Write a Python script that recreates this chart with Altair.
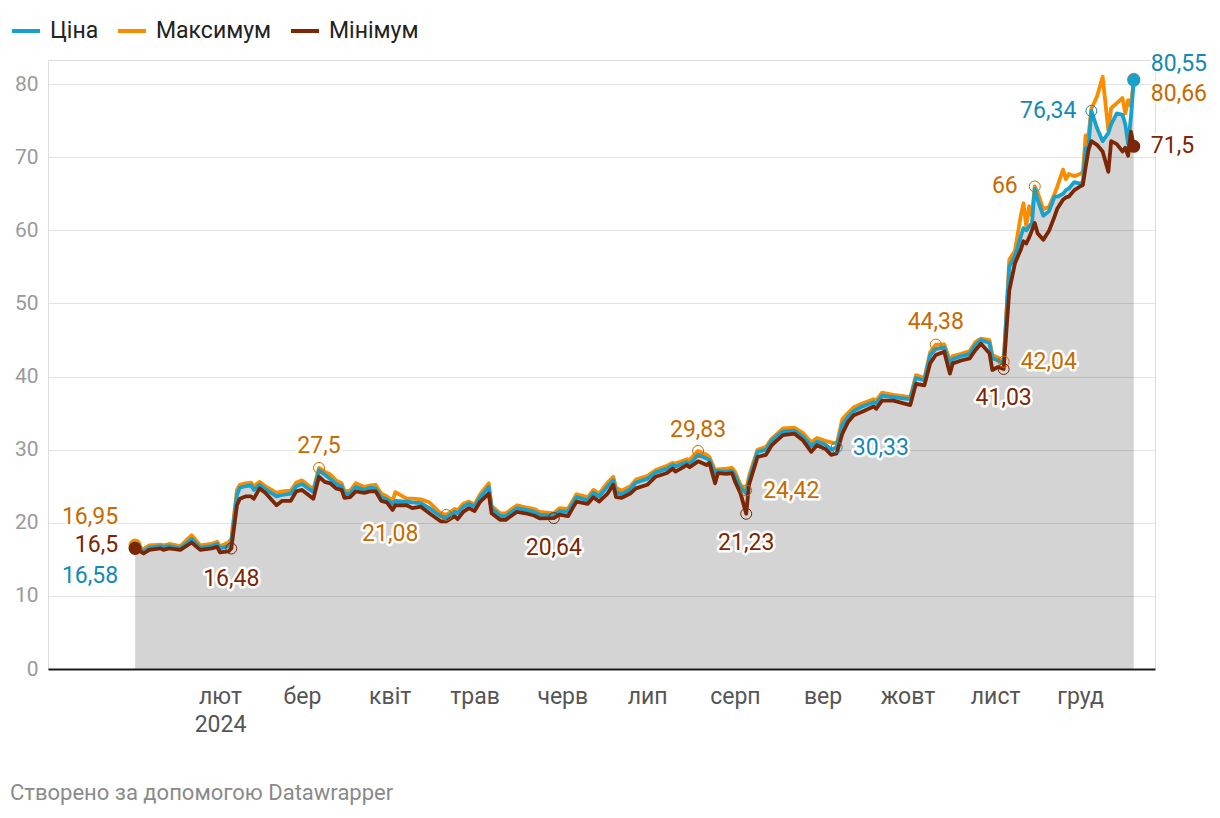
import altair as alt
import pandas as pd

# ---------------- data ----------------
dates = [
    "2024-01-02", "2024-01-05", "2024-01-07", "2024-01-11", "2024-01-12", "2024-01-14", "2024-01-18",
    "2024-01-22", "2024-01-25", "2024-01-29", "2024-01-31", "2024-02-01", "2024-02-04", "2024-02-05",
    "2024-02-07", "2024-02-08", "2024-02-10", "2024-02-12", "2024-02-13", "2024-02-15", "2024-02-17",
    "2024-02-21", "2024-02-23", "2024-02-26", "2024-02-28", "2024-03-01", "2024-03-05", "2024-03-07",
    "2024-03-09", "2024-03-11", "2024-03-13", "2024-03-15", "2024-03-16", "2024-03-18", "2024-03-20",
    "2024-03-23", "2024-03-25", "2024-03-27", "2024-03-29", "2024-03-31", "2024-04-02", "2024-04-03",
    "2024-04-07", "2024-04-09", "2024-04-12", "2024-04-15", "2024-04-19", "2024-04-21", "2024-04-24",
    "2024-04-25", "2024-04-27", "2024-04-29", "2024-05-01", "2024-05-03", "2024-05-06", "2024-05-07",
    "2024-05-10", "2024-05-12", "2024-05-16", "2024-05-19", "2024-05-22", "2024-05-24", "2024-05-29",
    "2024-05-31", "2024-06-03", "2024-06-06", "2024-06-10", "2024-06-12", "2024-06-14", "2024-06-17",
    "2024-06-19", "2024-06-20", "2024-06-22", "2024-06-25", "2024-06-27", "2024-07-01", "2024-07-04",
    "2024-07-08", "2024-07-10", "2024-07-11", "2024-07-15", "2024-07-16", "2024-07-19", "2024-07-22",
    "2024-07-23", "2024-07-25", "2024-07-26", "2024-07-29", "2024-07-31", "2024-08-01", "2024-08-03",
    "2024-08-05", "2024-08-06", "2024-08-09", "2024-08-12", "2024-08-14", "2024-08-16", "2024-08-18",
    "2024-08-22", "2024-08-25", "2024-08-28", "2024-08-30", "2024-09-02", "2024-09-04", "2024-09-06",
    "2024-09-08", "2024-09-10", "2024-09-12", "2024-09-15", "2024-09-19", "2024-09-20", "2024-09-22",
    "2024-09-26", "2024-09-28", "2024-10-02", "2024-10-04", "2024-10-07", "2024-10-09", "2024-10-11",
    "2024-10-14", "2024-10-16", "2024-10-17", "2024-10-20", "2024-10-23", "2024-10-25", "2024-10-27",
    "2024-10-30", "2024-10-31", "2024-11-02", "2024-11-04", "2024-11-06", "2024-11-08", "2024-11-10",
    "2024-11-11", "2024-11-12", "2024-11-13", "2024-11-14", "2024-11-15", "2024-11-16", "2024-11-18",
    "2024-11-20", "2024-11-22", "2024-11-23", "2024-11-25", "2024-11-26", "2024-11-27", "2024-11-29",
    "2024-12-01", "2024-12-02", "2024-12-03", "2024-12-04", "2024-12-05", "2024-12-07", "2024-12-09",
    "2024-12-11", "2024-12-12", "2024-12-14", "2024-12-16", "2024-12-17", "2024-12-18", "2024-12-19",
    "2024-12-20",
]

min_vals = [
    16.5, 15.8, 16.3, 16.5, 16.3, 16.5, 16.3, 17.3, 16.3, 16.5, 16.7, 15.96, 16.1, 16.48,
    22.4, 23.3, 23.6, 23.6, 23.3, 24.7, 24.1, 22.4, 23.0, 23.0, 24.3, 24.5, 23.3, 26.3,
    25.6, 25.4, 24.7, 24.5, 23.4, 23.5, 24.3, 24.1, 24.3, 24.3, 23.0, 22.8, 21.75, 22.4,
    22.4, 22.0, 22.2, 21.3, 20.2, 20.2, 20.9, 20.5, 21.5, 22.0, 21.6, 22.9, 24.0, 21.3,
    20.4, 20.4, 21.5, 21.3, 21.0, 20.6, 20.64, 21.1, 20.9, 22.9, 22.6, 23.5, 22.9, 24.0,
    25.2, 23.5, 23.4, 24.0, 24.7, 25.2, 26.3, 26.8, 27.4, 27.0, 27.9, 27.6, 28.4, 27.9,
    28.2, 25.4, 26.8, 26.7, 26.8, 25.7, 24.0, 21.23, 25.2, 29.0, 29.3, 30.6, 31.3, 32.0,
    32.2, 31.3, 29.7, 30.6, 30.1, 29.3, 29.5, 32.2, 33.8, 34.7, 35.2, 35.9, 35.6, 36.7,
    36.7, 36.5, 36.1, 39.0, 38.8, 41.8, 42.95, 43.4, 40.4, 41.8, 42.2, 42.5, 43.6, 44.5,
    43.2, 40.9, 41.3, 41.03, 51.8, 55.5, 57.3, 58.5, 58.2, 59.0, 60.0, 61.0, 59.6, 58.7,
    59.9, 61.9, 63.0, 64.2, 64.5, 64.6, 65.5, 66.0, 66.2, 68.7, 71.0, 72.2, 71.7, 70.8,
    68.0, 72.2, 71.8, 70.8, 71.3, 70.2, 73.5, 71.5,
]

price_vals = [
    16.58, 16.1, 16.6, 16.8, 16.7, 16.8, 16.5, 17.8, 16.6, 16.8, 17.1, 16.5, 16.8, 17.3,
    23.8, 24.8, 25.0, 25.1, 24.5, 25.2, 24.6, 23.6, 23.8, 24.0, 25.0, 25.3, 24.2, 27.2,
    26.6, 26.0, 25.3, 25.0, 24.0, 24.0, 24.9, 24.5, 24.8, 24.7, 23.5, 23.2, 22.6, 23.0,
    22.9, 22.8, 22.7, 22.0, 20.9, 20.7, 21.5, 21.3, 22.2, 22.6, 22.2, 23.5, 24.9, 22.0,
    20.9, 20.9, 22.0, 21.8, 21.5, 21.1, 21.0, 21.6, 21.5, 23.5, 23.1, 24.1, 23.6, 25.0,
    25.8, 24.2, 23.9, 24.6, 25.5, 26.0, 26.9, 27.4, 27.9, 27.7, 28.3, 28.0, 29.3, 28.8,
    28.6, 26.8, 27.1, 27.0, 27.1, 26.5, 24.8, 24.0, 25.8, 29.7, 30.0, 31.2, 31.9, 32.5,
    32.6, 31.8, 30.5, 31.1, 30.7, 30.0, 30.33, 33.4, 34.5, 35.3, 35.9, 36.5, 36.3, 37.4,
    37.2, 37.1, 36.9, 39.8, 39.5, 42.9, 43.8, 44.0, 41.8, 42.4, 42.8, 43.1, 44.3, 45.0,
    44.6, 42.5, 42.2, 41.8, 55.0, 56.5, 59.1, 60.3, 60.0, 60.5, 61.0, 65.7, 64.2, 62.0,
    62.6, 64.6, 64.6, 65.0, 65.5, 65.7, 66.6, 66.4, 66.6, 71.2, 71.5, 76.34, 74.0, 72.2,
    73.3, 74.5, 76.0, 75.8, 74.5, 71.8, 75.5, 80.55,
]

max_vals = [
    16.95, 16.4, 16.9, 17.0, 16.9, 17.1, 16.8, 18.3, 16.9, 17.1, 17.4, 16.8, 17.3, 17.8,
    24.5, 25.2, 25.4, 25.5, 25.0, 25.6, 25.0, 24.1, 24.3, 24.4, 25.5, 25.8, 24.6, 27.5,
    27.0, 26.6, 25.8, 25.4, 24.3, 24.4, 25.4, 24.9, 25.1, 25.2, 24.0, 23.6, 23.0, 24.2,
    23.3, 23.3, 23.2, 22.8, 21.3, 21.08, 21.9, 21.7, 22.6, 22.9, 22.5, 23.9, 25.4, 22.3,
    21.3, 21.3, 22.4, 22.1, 21.9, 21.5, 21.3, 22.0, 21.9, 23.9, 23.5, 24.5, 24.0, 25.5,
    26.3, 24.8, 24.4, 25.0, 25.9, 26.4, 27.2, 27.8, 28.2, 28.1, 28.7, 28.6, 29.83, 29.3,
    29.0, 27.2, 27.3, 27.4, 27.5, 27.0, 25.2, 24.42, 26.4, 30.0, 30.4, 31.5, 32.2, 32.9,
    33.0, 32.3, 31.0, 31.6, 31.2, 31.0, 30.8, 34.2, 35.0, 35.8, 36.3, 36.9, 36.7, 37.8,
    37.5, 37.4, 37.2, 40.2, 39.8, 43.3, 44.38, 44.4, 42.2, 42.8, 43.1, 43.5, 44.7, 45.2,
    45.0, 42.9, 42.6, 42.04, 56.0, 57.2, 61.9, 63.7, 60.6, 63.3, 62.0, 66.0, 65.2, 62.9,
    63.2, 65.0, 66.0, 68.3, 67.0, 67.7, 67.4, 67.7, 68.0, 73.0, 73.0, 76.6, 78.3, 81.0,
    73.7, 76.7, 77.4, 78.1, 76.0, 77.8, 77.0, 80.66,
]

series_names = ["Ціна", "Максимум", "Мінімум"]
month_labels = ["січ", "лют", "бер", "квіт", "трав", "черв", "лип", "серп", "вер", "жовт", "лист", "груд"]
year_label = "2024"
footer_text = "Створено за допомогою Datawrapper"

# annotations: series, date, value, label
ann_series = ["Максимум", "Мінімум", "Ціна", "Мінімум", "Максимум", "Максимум", "Мінімум",
              "Максимум", "Максимум", "Мінімум", "Ціна", "Максимум", "Максимум", "Мінімум",
              "Максимум", "Ціна", "Ціна", "Максимум", "Мінімум"]
ann_dates = ["2024-01-02", "2024-01-02", "2024-01-02", "2024-02-05", "2024-03-07", "2024-04-21",
             "2024-05-29", "2024-07-19", "2024-08-05", "2024-08-05", "2024-09-06", "2024-10-11",
             "2024-11-04", "2024-11-04", "2024-11-15", "2024-12-05", "2024-12-20", "2024-12-20",
             "2024-12-20"]
ann_values = [16.95, 16.5, 16.58, 16.48, 27.5, 21.08, 20.64, 29.83, 24.42, 21.23, 30.33, 44.38,
              42.04, 41.03, 66.0, 76.34, 80.55, 80.66, 71.5]
ann_labels = ["16,95", "16,5", "16,58", "16,48", "27,5", "21,08", "20,64", "29,83", "24,42", "21,23",
              "30,33", "44,38", "42,04", "41,03", "66", "76,34", "80,55", "80,66", "71,5"]

# ---------------- styles ----------------
line_colors = {"Ціна": "#18a1cd", "Максимум": "#fa8c00", "Мінімум": "#7b2605"}
text_colors = {"Ціна": "#1489b3", "Максимум": "#c76a00", "Мінімум": "#7b2605"}
# dx, dy, align, circle marker (True) or end dot (False)
ann_style = [
    (-17, -28, "right", False), (-17, -3, "right", False), (-17, 28, "right", False),
    (0, 30, "center", True), (0, -22, "center", True), (-28, 19, "right", True),
    (0, 30, "center", True), (0, -21, "center", True), (17, 1, "left", True),
    (0, 29, "center", True), (16, 1, "left", True), (0, -23, "center", True),
    (17, 0, "left", True), (0, 29, "center", True), (-17, 0, "right", True),
    (-15, 0, "right", True), (17, -16, "left", False), (17, 15, "left", False),
    (17, 0, "left", False),
]
FONT = "Roboto"

# ---------------- build ----------------
wide = pd.DataFrame({"date": pd.to_datetime(dates), "Ціна": price_vals,
                     "Максимум": max_vals, "Мінімум": min_vals})
long = wide.melt(id_vars="date", var_name="series", value_name="value")

x_enc = alt.X(
    "date:T",
    scale=alt.Scale(domain=[alt.DateTime(year=2023, month=12, date=2, hours=5),
                            alt.DateTime(year=2024, month=12, date=27, hours=12)]),
    axis=alt.Axis(
        values=[alt.DateTime(year=2024, month=m, date=1) for m in range(2, 13)],
        labelExpr="month(datum.value) == 1 ? ['" + month_labels[1] + "', '" + year_label + "'] : "
                  + str(month_labels) + "[month(datum.value)]",
        title=None, ticks=False, grid=False, domainColor="#1a1a1a", domainWidth=2,
        labelFont=FONT, labelFontSize=23, labelColor="#555555", labelPadding=16,
        labelLineHeight=28, labelOverlap=False, labelFlush=False, zindex=1,
    ),
)
y_enc = alt.Y(
    "value:Q",
    scale=alt.Scale(domain=[0, 83.3], nice=False, zero=True),
    axis=alt.Axis(values=list(range(0, 90, 10)), title=None, ticks=False, domain=False,
                  gridColor="#e3e3e3", gridWidth=1, labelFont=FONT, labelFontSize=21,
                  labelColor="#9a9a9a", labelPadding=10),
)
color_enc = alt.Color(
    "series:N",
    scale=alt.Scale(domain=series_names, range=[line_colors[s] for s in series_names]),
    legend=alt.Legend(orient="none", legendX=-38, legendY=-45, direction="horizontal",
                      title=None, symbolType="stroke", symbolStrokeWidth=4, symbolSize=784,
                      labelFont=FONT, labelFontSize=23, labelColor="#222222",
                      columnPadding=11, labelOffset=8),
)

base = alt.Chart(long)

area = base.transform_filter(alt.datum.series == "Ціна").mark_area(
    color="black", opacity=0.17).encode(x=x_enc, y=y_enc)

layers = [area]
for s in ["Максимум", "Ціна", "Мінімум"]:
    layers.append(
        base.transform_filter(alt.datum.series == s)
        .mark_line(strokeWidth=3.8, strokeJoin="round", strokeCap="round")
        .encode(x=x_enc, y=y_enc, color=color_enc)
    )

# start / end dots
for s in ["Максимум", "Ціна", "Мінімум"]:
    ends = long[(long.series == s) & (long.date.isin([long.date.min(), long.date.max()]))]
    layers.append(
        alt.Chart(ends).mark_circle(size=170, opacity=1)
        .encode(x=x_enc, y=y_enc, color=color_enc)
    )

# annotations
for s, d, v, lab, (dx, dy, al, circ) in zip(ann_series, ann_dates, ann_values, ann_labels, ann_style):
    adf = pd.DataFrame({"date": pd.to_datetime([d]), "value": [v], "label": [lab]})
    ch = alt.Chart(adf)
    if circ:
        layers.append(ch.mark_point(shape="circle", size=120, filled=False, strokeWidth=1,
                                    color=text_colors[s], opacity=1).encode(x=x_enc, y=y_enc))
    layers.append(ch.mark_text(dx=dx, dy=dy, align=al, baseline="middle", font=FONT, fontSize=23,
                               stroke="white", strokeWidth=5, strokeJoin="round", fill="white")
                  .encode(x=x_enc, y=y_enc, text="label:N"))
    layers.append(ch.mark_text(dx=dx, dy=dy, align=al, baseline="middle", font=FONT, fontSize=23,
                               color=text_colors[s])
                  .encode(x=x_enc, y=y_enc, text="label:N"))

footer = alt.Chart(pd.DataFrame({"t": [footer_text]})).mark_text(
    align="left", baseline="middle", font=FONT, fontSize=22, color="#8a8a8a"
).encode(x=alt.value(-38), y=alt.value(733), text="t:N")
layers.append(footer)

chart = alt.layer(*layers).properties(
    width=1107, height=609,
    padding={"left": 40, "top": 52, "right": 57, "bottom": 141},
    autosize=alt.AutoSizeParams(type="none"),
).configure_view(stroke=None).configure(background="white")

chart.save("out.html", embed_options={"renderer": "svg", "actions": False})
